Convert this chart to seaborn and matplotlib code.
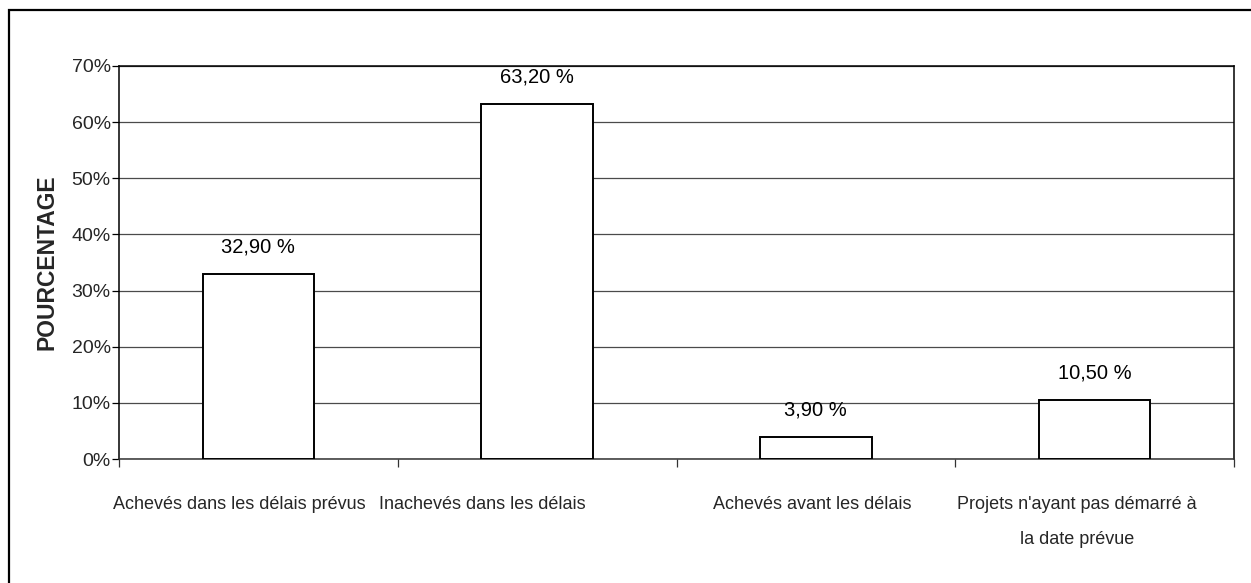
import matplotlib
matplotlib.use("Agg")
import matplotlib.pyplot as plt
import matplotlib.transforms as mtransforms
from matplotlib.patches import Rectangle
import seaborn as sns
import pandas as pd

categories = [
    "Achevés dans les délais prévus",
    "Inachevés dans les délais",
    "Achevés avant les délais",
    "Projets n'ayant pas démarré à\nla date prévue",
]
values = [32.90, 63.20, 3.90, 10.50]
value_labels = ["32,90 %", "63,20 %", "3,90 %", "10,50 %"]
yticks = [0, 10, 20, 30, 40, 50, 60, 70]
ytick_labels = ["0%", "10%", "20%", "30%", "40%", "50%", "60%", "70%"]

sns.set_theme(style="white")
plt.rcParams["font.family"] = ["Liberation Sans", "DejaVu Sans"]

df = pd.DataFrame({"cat": categories, "val": values})

fig = plt.figure(figsize=(12.51, 5.83), dpi=100)
ax = fig.add_axes([119 / 1251, 1 - 459 / 583, (1234 - 119) / 1251, (459 - 66) / 583])

sns.barplot(data=df, x="cat", y="val", ax=ax, color="white", edgecolor="black",
            linewidth=1.4, width=0.4, saturation=1, zorder=3)

ax.set_ylim(0, 70)
ax.set_xlim(-0.5, len(categories) - 0.5)
ax.set_yticks(yticks)
ax.set_yticklabels(ytick_labels, fontsize=14)
ax.yaxis.grid(True, color="#4a4a4a", linewidth=0.9, zorder=0)
ax.set_axisbelow(True)

# category labels, ticks placed at category boundaries
ax.set_xticks(range(len(categories)))
ax.set_xticklabels(categories, fontsize=13, linespacing=2.39)
ax.tick_params(axis="x", length=0, pad=26.5)
ax.set_xticks([i - 0.5 for i in range(len(categories) + 1)], minor=True)
ax.tick_params(axis="x", which="minor", length=6, width=0.9, color="#333333", direction="out",
               bottom=True)
ax.tick_params(axis="y", length=5, width=0.9, color="black", direction="out", left=True, pad=1)

offsets_px = [-19, -55, -4, -18]
for lbl, dx in zip(ax.get_xticklabels(), offsets_px):
    lbl.set_transform(lbl.get_transform() + mtransforms.ScaledTranslation(dx / 100, 0, fig.dpi_scale_trans))

for s in ["left", "right", "top"]:
    ax.spines[s].set_visible(True)
    ax.spines[s].set_color("black")
    ax.spines[s].set_linewidth(1.1)
ax.spines["bottom"].set_color("#333333")
ax.spines["bottom"].set_linewidth(1.1)

for i, (v, t) in enumerate(zip(values, value_labels)):
    ax.annotate(t, xy=(i, v), xytext=(0, 27), textcoords="offset pixels",
                ha="center", va="center", fontsize=14.5, color="black")

ax.set_xlabel("")
ax.set_ylabel("POURCENTAGE", fontsize=16.5, fontweight="bold")
ax.yaxis.set_label_coords(-0.0547, 0.5)

fig.patches.append(Rectangle((9 / 1251, -0.1), 1.2, 1 - 10 / 583 + 0.1, transform=fig.transFigure,
                             fill=False, edgecolor="black", linewidth=1.6))

fig.savefig("out.png", dpi=100, facecolor="white")
